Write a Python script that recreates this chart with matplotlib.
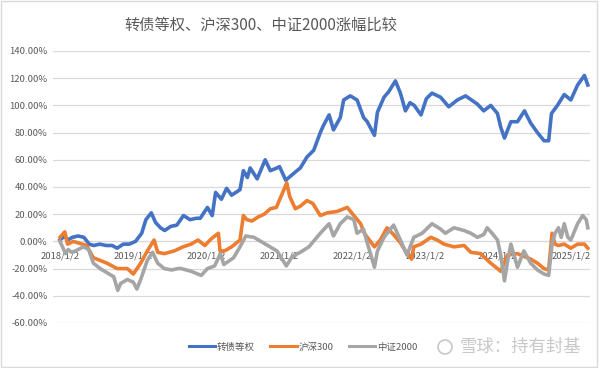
import matplotlib
matplotlib.use("Agg")
import matplotlib.pyplot as plt
from matplotlib.patches import Rectangle, Ellipse
from matplotlib.ticker import FuncFormatter, MultipleLocator
import pandas as pd

plt.rcParams["font.family"] = ["Noto Sans CJK SC", "DejaVu Sans"]

title = "转债等权、沪深300、中证2000涨幅比较"
series_names = ["转债等权", "沪深300", "中证2000"]
tick_dates = ["2018-01-02", "2019-01-02", "2020-01-02", "2021-01-02",
              "2022-01-02", "2023-01-02", "2024-01-02", "2025-01-02"]
tick_labels = ["2018/1/2", "2019/1/2", "2020/1/2", "2021/1/2",
               "2022/1/2", "2023/1/2", "2024/1/2", "2025/1/2"]

# 转债等权 (cumulative %)
cb_dates = [
    "2018-01-02", "2018-01-25", "2018-02-09", "2018-03-05", "2018-04-02", "2018-05-02",
    "2018-05-28", "2018-06-20", "2018-07-20", "2018-08-20", "2018-09-20", "2018-10-15",
    "2018-11-15", "2018-12-15",
    "2019-01-15", "2019-02-15", "2019-03-08", "2019-04-04", "2019-04-25", "2019-05-20",
    "2019-06-10", "2019-07-10", "2019-08-10", "2019-09-12", "2019-10-15", "2019-11-15",
    "2019-12-05",
    "2020-01-10", "2020-02-03", "2020-02-20", "2020-03-20", "2020-04-15", "2020-05-10",
    "2020-06-21", "2020-07-08", "2020-07-28", "2020-08-11", "2020-09-15", "2020-10-25",
    "2020-11-20", "2020-12-23",
    "2021-01-05", "2021-02-05", "2021-03-25", "2021-04-19", "2021-05-22", "2021-06-25",
    "2021-07-28", "2021-08-12", "2021-09-10", "2021-10-02", "2021-11-05", "2021-11-22",
    "2021-12-25",
    "2022-01-28", "2022-03-02", "2022-03-20", "2022-04-25", "2022-05-10", "2022-06-12",
    "2022-07-05", "2022-08-08", "2022-09-02", "2022-09-27", "2022-10-20", "2022-11-10",
    "2022-12-14",
    "2023-01-10", "2023-02-07", "2023-03-22", "2023-05-02", "2023-06-14", "2023-07-25",
    "2023-09-22", "2023-10-24", "2023-11-28",
    "2024-01-01", "2024-01-17", "2024-02-05", "2024-03-08", "2024-04-10", "2024-05-15",
    "2024-06-15", "2024-07-19", "2024-08-21", "2024-09-13", "2024-09-27", "2024-10-27",
    "2024-11-30",
    "2025-01-02", "2025-02-05", "2025-03-11", "2025-03-28",
]
cb_values = [
    1, 4, 1, 3, 4, 3,
    -2, -3, -2, -3, -3, -5,
    -2, -2,
    0, 6, 16, 21, 14, 10,
    8, 11, 12, 19, 16, 17,
    17,
    25, 19, 36, 31, 39, 34,
    38, 52, 47, 54, 46, 60,
    52, 54,
    55, 45, 51, 54, 62, 67,
    80, 85, 93, 82, 91, 104,
    107,
    104, 91, 88, 78, 95, 106,
    110, 118, 109, 96, 102, 100,
    93,
    105, 109, 106, 99, 104, 107,
    101, 96, 100,
    94, 84, 76, 88, 88, 96,
    87, 80, 74, 74, 94, 100,
    108,
    104, 115, 122, 115,
]

# 沪深300 (cumulative %)
hs300_dates = [
    "2018-01-02", "2018-01-26", "2018-02-09", "2018-03-10", "2018-04-12", "2018-05-15",
    "2018-06-18", "2018-07-22", "2018-08-25", "2018-10-15", "2018-12-05",
    "2019-01-04", "2019-02-10", "2019-03-15", "2019-04-18", "2019-05-06", "2019-06-08",
    "2019-07-28", "2019-09-10", "2019-10-20", "2019-11-24", "2019-12-28",
    "2020-01-30", "2020-03-05", "2020-03-13", "2020-04-05", "2020-05-10", "2020-06-21",
    "2020-07-08", "2020-07-25", "2020-08-20", "2020-09-20", "2020-10-20", "2020-11-20",
    "2020-12-20",
    "2021-01-18", "2021-02-10", "2021-02-25", "2021-03-25", "2021-04-20", "2021-05-22",
    "2021-06-20", "2021-07-28", "2021-09-01", "2021-10-20", "2021-12-10",
    "2022-01-12", "2022-02-15", "2022-03-05", "2022-04-25", "2022-05-24", "2022-06-27",
    "2022-07-30", "2022-09-02", "2022-10-05", "2022-10-28", "2022-11-08", "2022-12-14",
    "2023-02-01", "2023-03-05", "2023-04-08", "2023-05-28", "2023-07-18", "2023-08-20",
    "2023-10-08", "2023-11-28",
    "2024-01-01", "2024-01-17", "2024-02-20", "2024-04-10", "2024-05-12", "2024-06-15",
    "2024-07-19", "2024-08-21", "2024-09-13", "2024-09-30", "2024-10-15", "2024-11-01",
    "2024-11-30",
    "2025-01-02", "2025-02-05", "2025-03-11", "2025-03-28",
]
hs300_values = [
    3, 7, -2, 0, -1.5, -3,
    -12, -14, -16, -20, -20,
    -24, -16, -7, 1, -8, -9,
    -7, -4, -2, 1, -3,
    2, 6, -7, -7, -4, 1,
    19, 16, 15, 18, 20, 24,
    25,
    35, 43, 33, 24, 26, 30,
    28, 19, 21, 22, 25,
    19, 13, 6, -4, 1, 10,
    5, -1, -9, -13, -4, -2,
    3, 1, -2, -4, -3, -8,
    -9, -16,
    -20, -22, -10, -9, -11, -13,
    -16, -20, -21, 6, -2, -3,
    -2,
    -5, -2, -2, -5,
]

# 中证2000 (cumulative %)
csi2000_dates = [
    "2018-01-02", "2018-01-30", "2018-02-12", "2018-03-01", "2018-03-20", "2018-04-30",
    "2018-05-25", "2018-06-18", "2018-07-22", "2018-08-25", "2018-09-28", "2018-10-18",
    "2018-11-01", "2018-12-05",
    "2019-01-04", "2019-01-22", "2019-02-10", "2019-03-15", "2019-04-10", "2019-05-06",
    "2019-06-08", "2019-07-15", "2019-08-15", "2019-09-01", "2019-10-21", "2019-12-10",
    "2020-01-10", "2020-02-15", "2020-03-15", "2020-04-01", "2020-05-20", "2020-06-21",
    "2020-07-20", "2020-08-30", "2020-10-15", "2020-12-23",
    "2021-02-08", "2021-03-10", "2021-04-19", "2021-06-01", "2021-07-28", "2021-09-10",
    "2021-10-02", "2021-11-05", "2021-12-10",
    "2022-01-12", "2022-01-28", "2022-03-01", "2022-03-16", "2022-04-25", "2022-05-10",
    "2022-06-12", "2022-07-30", "2022-09-02", "2022-10-05", "2022-11-08", "2022-12-20",
    "2023-02-07", "2023-03-22", "2023-04-15", "2023-05-28", "2023-07-18",
    "2023-08-20", "2023-09-22", "2023-10-24", "2023-11-10", "2023-12-05",
    "2024-01-01", "2024-01-17", "2024-02-05", "2024-02-20", "2024-03-08", "2024-04-10",
    "2024-05-12", "2024-06-15", "2024-07-19", "2024-08-21", "2024-09-13", "2024-09-30",
    "2024-10-15", "2024-11-01", "2024-11-15", "2024-11-30", "2024-12-18",
    "2025-01-02", "2025-02-05", "2025-03-02", "2025-03-20", "2025-03-28",
]
csi2000_values = [
    0, -9, -6, -8, -7, -4,
    -6, -16, -20, -23, -26, -36,
    -31, -28,
    -30, -35, -28, -14, -8, -16,
    -20, -21, -20, -20, -22, -25,
    -20, -18, -9, -17, -12, -4,
    4, 3, -1, -7,
    -18, -11, -8, -4, 6, 13,
    4, 13, 18,
    16, 6, 9, 1, -19, -7,
    3, 12, 1, -10, 3, 6,
    13, 9, 6, 10, 8,
    6, 3, 5, 10, 6,
    1, -10, -29, -15, -2, -19,
    -7, -16, -21, -24, -25, -2,
    6, 10, 3, 13, 3,
    1, 13, 19, 16, 10,
]

colors = ["#4472C4", "#ED7D31", "#A5A5A5"]
text_color = "#595959"

fig = plt.figure(figsize=(6.01, 3.68), dpi=100)
ax = fig.add_axes([53 / 601, 1 - 323 / 368, (590 - 53) / 601, (323 - 51) / 368])

all_dates = [cb_dates, hs300_dates, csi2000_dates]
all_values = [cb_values, hs300_values, csi2000_values]
handles = []
for d, v, c, name in zip(all_dates, all_values, colors, series_names):
    (ln,) = ax.plot(pd.to_datetime(d), v, color=c, lw=2.6, label=name,
                    solid_joinstyle="round", zorder=3)
    handles.append(ln)

ax.set_ylim(-60, 140)
ax.yaxis.set_major_locator(MultipleLocator(20))
ax.yaxis.set_major_formatter(FuncFormatter(lambda v, _: f"{v:.2f}%"))
ax.set_xlim(pd.Timestamp("2017-11-28"), pd.Timestamp("2025-04-08"))
ax.set_xticks(pd.to_datetime(tick_dates))
ax.set_xticklabels(tick_labels)

ax.grid(axis="y", color="#D9D9D9", linewidth=0.9)
ax.set_axisbelow(True)
for s in ["top", "right", "left"]:
    ax.spines[s].set_visible(False)
ax.spines["bottom"].set_position(("data", 0))
ax.spines["bottom"].set_color("#D9D9D9")
ax.tick_params(length=0, labelsize=6.8, colors=text_color)
ax.tick_params(axis="x", pad=7)
ax.tick_params(axis="y", pad=4)

fig.text(261 / 601, 1 - 25 / 368, title, ha="center", va="center",
         fontsize=11, color=text_color)

leg = fig.legend(handles=handles, labels=series_names, loc="center",
                 bbox_to_anchor=(303 / 601, 1 - 347 / 368), ncol=3, frameon=False,
                 fontsize=6.8, handlelength=2.8, handletextpad=0.2, columnspacing=1.6)
for t in leg.get_texts():
    t.set_color(text_color)
for h in leg.legend_handles:
    h.set_linewidth(2.2)

# watermark
fig.patches.append(Ellipse((445 / 601, 1 - 347 / 368), 14 / 601, 14 / 368, fill=False,
                           edgecolor="#C8C8C8", lw=1.2, transform=fig.transFigure))
fig.text(460 / 601, 1 - 347 / 368, "雪球：持有封基", ha="left", va="center",
         fontsize=12.5, color="#C8C8C8")

fig.patches.append(Rectangle((0.5 / 601, 1 - 366.5 / 368), 596.5 / 601, 366 / 368,
                             fill=False, edgecolor="#D9D9D9", lw=1,
                             transform=fig.transFigure))

fig.savefig("out.png", dpi=100)
